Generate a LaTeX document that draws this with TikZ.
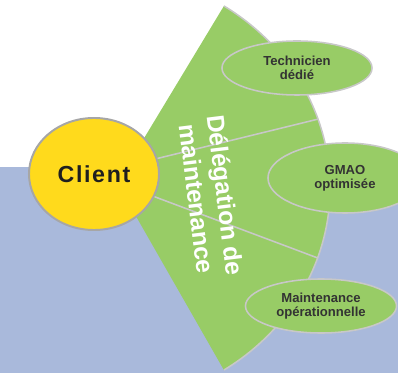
\documentclass[tikz,border=0pt]{standalone}
\usepackage{fontspec}
\setmainfont{Liberation Sans}
\usetikzlibrary{shapes.geometric}
\definecolor{bgblue}{RGB}{169,185,219}
\definecolor{fangreen}{RGB}{152,204,102}
\definecolor{clientyellow}{RGB}{255,218,28}
\definecolor{rimgray}{RGB}{200,200,200}
\begin{document}
\begin{tikzpicture}[x=0.025cm, y=0.025cm,
                    Client/.style={draw=black!35, line width=1.4pt, ellipse, fill=clientyellow,
                                   minimum width=3.25cm, minimum height=2.8cm, inner sep=0,
                                   text=black!88, font=\bfseries\fontsize{16.5}{20}\selectfont\addfontfeature{LetterSpace=7}},
                    leaf/.style={draw=rimgray, line width=1.1pt, ellipse, fill=fangreen, inner sep=0,
                                 minimum width=3.75cm, minimum height=1.35cm, align=center,
                                 text=black!80, font=\bfseries\fontsize{9.3}{10.2}\selectfont},
                    divider/.style={draw=rimgray, line width=1.1pt},
                    fan_label/.style={text=white, align=center, rotate=-83,
                                      font=\bfseries\fontsize{17.5}{20.5}\selectfont}
                    ]
        \useasboundingbox (0,0) rectangle (398,373);
        \fill[bgblue] (0,0) rectangle (398,206);

        % fan behind the client
        \coordinate (fanC) at (97,185);
        \coordinate (apex) at (117,190);
        \path (fanC) ++(57:5.825cm and 5.425cm) coordinate (arcTop);
        \fill[fangreen] (apex) -- (arcTop)
            arc[start angle=57, end angle=-57, x radius=5.825cm, y radius=5.425cm] -- cycle;
        \draw[rimgray, line width=1.1pt] (arcTop)
            arc[start angle=57, end angle=-57, x radius=5.825cm, y radius=5.425cm];
        \path (fanC) ++(18.5:5.825cm and 5.425cm) coordinate (cut1);
        \path (fanC) ++(-18.8:5.825cm and 5.425cm) coordinate (cut2);

        \node[Client] (client) at (94,199) {Client};
        \draw[divider] (client) -- (cut1);
        \draw[divider] (client) -- (cut2);

        \node[fan_label] (deleg) at (211,176) {Délégation de\\maintenance};

        \node[leaf] (tech) at (297,305) {Technicien\\dédié};
        \node[leaf, minimum width=3.85cm, minimum height=1.75cm] (gmao) at (345,195) {GMAO\\optimisée};
        \node[leaf, minimum width=3.775cm] (maint) at (321,67) {Maintenance\\opérationnelle};
\end{tikzpicture}
\end{document}
